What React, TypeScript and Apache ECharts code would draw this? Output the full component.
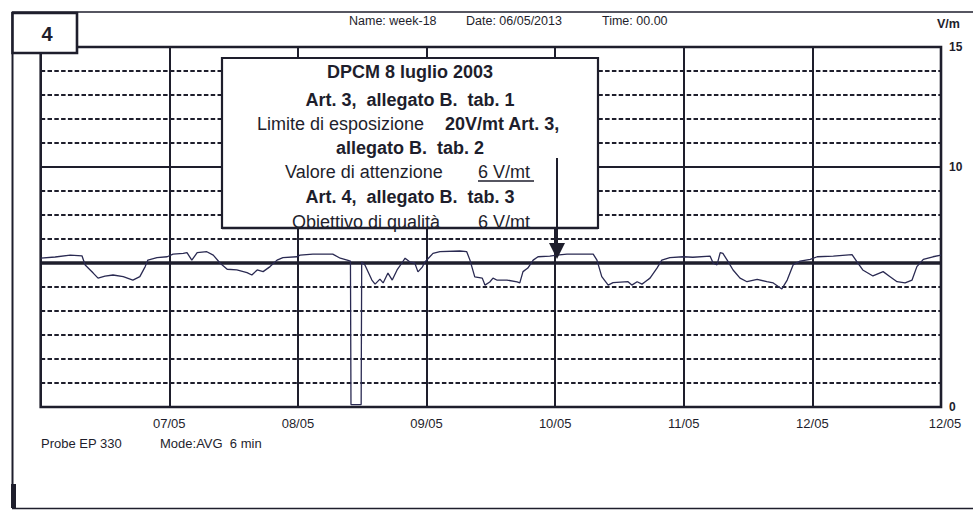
import React, { useEffect, useRef } from "react";
import * as echarts from "echarts";

// Hours since 06/05/2013 00:00 (6-min AVG trace)
const hours = [
  0, 2.7, 5.5, 7.7, 8.3, 9.8, 10.7, 12.0, 13.5, 15.4,
  17.2, 18.5, 19.5, 20.0, 21.7, 23.6, 24.7, 26.6, 27.3, 28.2,
  29.2, 31.0, 32.2, 33.5, 34.8, 36.6, 38.5, 39.4, 40.4, 41.5,
  42.8, 44.1, 45.2, 47.8, 48.4, 50.8, 54.5, 55.9, 57.2, 57.8,
  57.9, 59.8, 59.9, 60.5, 61.8, 62.4, 63.3, 63.9, 64.8, 65.6,
  66.5, 67.4, 68.0, 68.9, 69.8, 70.4, 71.2, 71.7, 73.2, 74.5,
  78.2, 79.5, 80.1, 81.0, 82.4, 82.9, 83.8, 84.4, 85.1, 87.0,
  88.9, 89.4, 90.0, 90.9, 91.9, 92.8, 95.0, 96.3, 98.2, 103.1,
  103.8, 104.7, 105.9, 106.8, 109.6, 110.3, 111.3, 112.2, 112.8, 113.7,
  115.0, 115.9, 117.4, 119.9, 121.7, 124.9, 125.5, 126.2, 126.8, 127.3,
  128.1, 129.2, 130.5, 131.8, 133.7, 135.5, 136.7, 138.3, 139.3, 140.4,
  141.7, 143.6, 144.9, 147.9, 151.4, 152.3, 153.4, 155.3, 157.2, 158.5,
  159.8, 161.3, 162.6, 163.5, 164.7, 166.5, 168,
];

// Field strength, V/m
const values = [
  6.2, 6.25, 6.33, 6.3, 5.92, 5.58, 5.37, 5.45, 5.5, 5.43,
  5.29, 5.43, 5.85, 6.12, 6.22, 6.26, 6.37, 6.4, 6.43, 6.12,
  6.43, 6.47, 6.33, 5.99, 5.74, 5.71, 5.6, 5.5, 5.71, 5.64,
  5.85, 6.12, 6.22, 6.26, 6.33, 6.37, 6.37, 6.2, 6.12, 6.08,
  0.1, 0.1, 6.04, 5.92, 5.29, 5.12, 5.33, 5.17, 5.58, 5.29,
  5.71, 6.0, 6.2, 6.04, 6.0, 5.63, 5.83, 6.04, 6.4, 6.47,
  6.5, 6.47, 6.12, 5.42, 5.37, 5.08, 5.21, 5.37, 5.29, 5.29,
  5.21, 5.17, 5.64, 5.79, 6.12, 6.26, 6.29, 6.33, 6.37, 6.37,
  6.12, 5.43, 5.08, 5.18, 5.22, 5.08, 5.22, 5.12, 5.22, 5.37,
  5.79, 6.12, 6.22, 6.26, 6.24, 6.29, 5.99, 5.92, 6.43, 6.4,
  6.12, 5.71, 5.37, 5.22, 5.32, 5.22, 5.17, 4.92, 5.29, 5.92,
  6.08, 6.15, 6.26, 6.29, 6.35, 6.06, 5.71, 5.46, 5.64, 5.43,
  5.22, 5.17, 5.29, 5.85, 6.15, 6.26, 6.33,
];

const xTickHours = [0, 24, 48, 72, 96, 120, 144, 168];
const xTickLabels = ["", "07/05", "08/05", "09/05", "10/05", "11/05", "12/05", "12/05"];
const yLabelValues = [0, 10, 15];
const attentionValue = 6;
const solidGridValue = 10;

const headerName = "Name: week-18";
const headerDate = "Date: 06/05/2013";
const headerTime = "Time: 00.00";
const unitLabel = "V/m";
const panelNumber = "4";
const probeLabel = "Probe EP 330";
const modeLabel = "Mode:AVG  6 min";

const FONT = '"Liberation Sans", Arial, Helvetica, sans-serif';
const INK = "#1e1e2c";
const TRACE = "#2a2a52";

function txt(x: number, y: number, text: string, size: number, weight: string, align = "left", extra: any = {}) {
  return {
    type: "text",
    x,
    y,
    z: 110,
    silent: true,
    style: {
      text,
      fill: INK,
      font: `${weight} ${size}px ${FONT}`,
      textAlign: align,
      textVerticalAlign: "middle",
      align,
      verticalAlign: "middle",
      ...extra,
    },
  };
}

export default function App() {
  const ref = useRef<HTMLDivElement>(null);

  useEffect(() => {
    if (!ref.current) return;
    const chart = echarts.init(ref.current, undefined, { renderer: "svg" });
    const data = hours.map((h, i) => [h, values[i]]);

    const boxCx = 410;
    const option: any = {
      animation: false,
      backgroundColor: "#ffffff",
      grid: {
        left: 40.7,
        right: 32,
        top: 47,
        bottom: 103,
        show: true,
        borderColor: INK,
        borderWidth: 2.6,
        backgroundColor: "#ffffff",
      },
      xAxis: {
        type: "value",
        min: 0,
        max: 168,
        interval: 24,
        axisLine: { show: false },
        axisTick: { show: false },
        splitLine: { show: true, lineStyle: { color: INK, width: 2, type: "solid" } },
        axisLabel: {
          show: true,
          margin: 10,
          color: INK,
          fontFamily: FONT,
          fontSize: 13,
          showMinLabel: true,
          showMaxLabel: true,
          formatter: (v: number) => {
            const i = xTickHours.indexOf(Math.round(v));
            if (i < 0) return "";
            if (i === xTickHours.length - 1) return `{last|${xTickLabels[i]}}`;
            return xTickLabels[i];
          },
          rich: {
            last: { padding: [0, 0, 0, 8], color: INK, fontFamily: FONT, fontSize: 13 },
          },
        },
      },
      yAxis: {
        type: "value",
        position: "right",
        min: 0,
        max: 15,
        interval: 1,
        axisLine: { show: false },
        axisTick: { show: false },
        splitLine: { show: true, lineStyle: { color: INK, width: 2, type: [4.5, 2.3] } },
        axisLabel: {
          show: true,
          margin: 8,
          color: INK,
          fontFamily: FONT,
          fontSize: 12,
          fontWeight: "bold",
          showMinLabel: true,
          showMaxLabel: true,
          formatter: (v: number) => (yLabelValues.includes(Math.round(v)) ? String(Math.round(v)) : ""),
        },
      },
      series: [
        {
          type: "line",
          data,
          showSymbol: false,
          symbol: "none",
          lineStyle: { color: TRACE, width: 1.3 },
          z: 5,
          markLine: {
            silent: true,
            symbol: "none",
            label: { show: false },
            data: [
              { yAxis: solidGridValue, lineStyle: { color: INK, width: 2, type: "solid" } },
              { yAxis: attentionValue, lineStyle: { color: INK, width: 3.6, type: "solid" } },
            ],
          },
        },
      ],
      graphic: [
        // outer frame
        { type: "line", z: 100, silent: true, shape: { x1: 12, y1: 12, x2: 973, y2: 12 }, style: { stroke: INK, lineWidth: 1.6 } },
        { type: "line", z: 100, silent: true, shape: { x1: 12.5, y1: 12, x2: 12.5, y2: 508 }, style: { stroke: INK, lineWidth: 2 } },
        { type: "line", z: 100, silent: true, shape: { x1: 12, y1: 508.5, x2: 973, y2: 508.5 }, style: { stroke: INK, lineWidth: 1.6 } },
        { type: "rect", z: 100, silent: true, shape: { x: 11, y: 484, width: 5, height: 24 }, style: { fill: INK } },
        // panel number box
        { type: "rect", z: 105, silent: true, shape: { x: 12.5, y: 13, width: 64.5, height: 40 }, style: { fill: "#ffffff", stroke: INK, lineWidth: 2.6 } },
        txt(47, 34, panelNumber, 20, "bold", "center"),
        // header
        txt(349, 21, headerName, 12.5, "normal"),
        txt(466, 21, headerDate, 12.5, "normal"),
        txt(602, 21, headerTime, 12.5, "normal"),
        txt(937, 24, unitLabel, 12.5, "bold"),
        // footer
        txt(41, 443, probeLabel, 13, "normal"),
        txt(160, 443, modeLabel, 13, "normal"),
        // legislative note box
        { type: "rect", z: 105, silent: true, shape: { x: 222, y: 58, width: 376, height: 170 }, style: { fill: "#ffffff", stroke: INK, lineWidth: 2.2 } },
        txt(boxCx, 72, "DPCM 8 luglio 2003", 18, "bold", "center"),
        txt(boxCx, 100, "Art. 3,  allegato B.  tab. 1", 18, "bold", "center"),
        txt(257, 124, "Limite di esposizione", 18, "normal"),
        txt(445, 124, "20V/mt Art. 3,", 18, "bold"),
        txt(boxCx, 148, "allegato B.  tab. 2", 18, "bold", "center"),
        txt(285, 172, "Valore di attenzione", 18, "normal"),
        txt(478, 172, "6 V/mt", 18, "normal"),
        { type: "line", z: 111, silent: true, shape: { x1: 478, y1: 181, x2: 534, y2: 181 }, style: { stroke: INK, lineWidth: 1.6 } },
        txt(boxCx, 197, "Art. 4,  allegato B.  tab. 3", 18, "bold", "center"),
        txt(292, 222, "Obiettivo di qualità", 18, "normal"),
        txt(478, 222, "6 V/mt", 18, "normal"),
        { type: "line", z: 112, silent: true, shape: { x1: 222, y1: 228, x2: 598, y2: 228 }, style: { stroke: INK, lineWidth: 2.4 } },
        // arrow
        { type: "line", z: 112, silent: true, shape: { x1: 557, y1: 158, x2: 557, y2: 248 }, style: { stroke: INK, lineWidth: 2 } },
        { type: "polygon", z: 112, silent: true, shape: { points: [[549, 243], [565, 243], [557, 259]] }, style: { fill: INK } },
      ],
    };

    chart.setOption(option);
    return () => chart.dispose();
  }, []);

  return (
    <div
      ref={ref}
      style={{ position: "absolute", left: 0, top: 0, width: 973, height: 510, background: "#fff" }}
    />
  );
}
